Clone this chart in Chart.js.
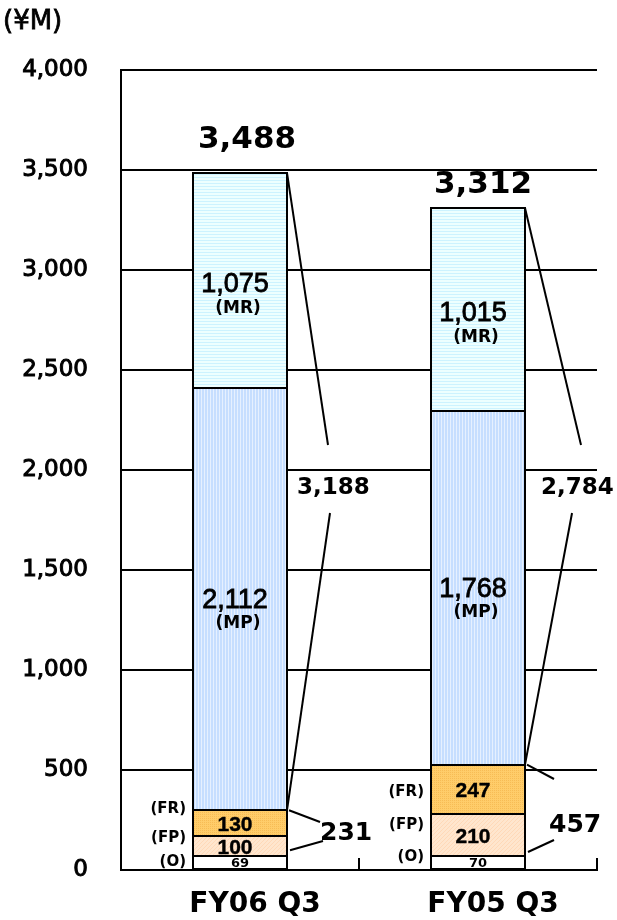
<!DOCTYPE html>
<html>
<head>
<meta charset="utf-8">
<script src="https://cdn.jsdelivr.net/npm/chart.js@4"></script>
<style>
  html, body { margin: 0; padding: 0; background: #fff; }
  #wrap { width: 617px; height: 920px; }
</style>
</head>
<body>
<div id="wrap"><canvas id="c" width="617" height="920"></canvas></div>
<script>
// Quarterly sales breakdown (¥M), stacked from the bottom up
const categories = ['FY06 Q3', 'FY05 Q3'];
const oValues  = [69, 70];      // (O)
const fpValues = [100, 210];    // (FP)
const frValues = [130, 247];    // (FR)
const mpValues = [2112, 1768];  // (MP)
const mrValues = [1075, 1015];  // (MR)
const totalLabels = [3488, 3312];
const mpMrLabels  = [3188, 2784];
const fpFrLabels  = [231, 457];
const yTicks = [0, 500, 1000, 1500, 2000, 2500, 3000, 3500, 4000];
const unitLabel = '(¥M)';

const fmt = v => Number(v).toLocaleString('en-US');

function makePattern(w, h, paint) {
  const c = document.createElement('canvas');
  c.width = w; c.height = h;
  const g = c.getContext('2d');
  paint(g, w, h);
  return g.createPattern(c, 'repeat');
}
const ctx0 = document.getElementById('c').getContext('2d');

const mrFill = makePattern(4, 3, (g, w, h) => {
  g.fillStyle = '#EDFFFF'; g.fillRect(0, 0, w, h);
  g.fillStyle = '#CDF3FF'; g.fillRect(0, 0, w, 1);
});
const mpFill = makePattern(3, 4, (g, w, h) => {
  g.fillStyle = '#C6DEFF'; g.fillRect(0, 0, w, h);
  g.fillStyle = '#E6F0FF'; g.fillRect(0, 0, 1, h);
});
const frFill = makePattern(2, 2, (g, w, h) => {
  g.fillStyle = '#FFCD6A'; g.fillRect(0, 0, w, h);
  g.fillStyle = '#F7BC55'; g.fillRect(0, 0, 1, 1);
});
const fpFill = makePattern(4, 4, (g, w, h) => {
  g.fillStyle = '#FFE6CE'; g.fillRect(0, 0, w, h);
  g.fillStyle = '#FFD9B8';
  for (let i = 0; i < 4; i++) g.fillRect(i, 3 - i, 1, 1);
});

const segmentStyle = {
  borderWidth: 0,
  barPercentage: 0.395,
  categoryPercentage: 1.0
};

// Outlines, texts and connector lines drawn over the bars
const annotate = {
  id: 'annotate',
  afterDatasetsDraw(chart, args, o) {
    const { ctx, chartArea } = chart;
    const ys = chart.scales.y;
    const xs = chart.scales.x;
    const metas = chart.data.datasets.map((d, i) => chart.getDatasetMeta(i));

    const text = (s, x, y, font, align, stroke) => {
      ctx.font = font;
      ctx.fillStyle = '#000';
      ctx.textAlign = align || 'center';
      ctx.textBaseline = 'middle';
      ctx.fillText(s, x, y);
      if (stroke) {
        ctx.save();
        ctx.lineWidth = stroke;
        ctx.strokeStyle = '#000';
        ctx.strokeText(s, x, y);
        ctx.restore();
      }
    };
    const line = (x1, y1, x2, y2) => {
      ctx.beginPath();
      ctx.moveTo(x1, y1);
      ctx.lineTo(x2, y2);
      ctx.stroke();
    };

    ctx.save();

    // unit caption
    text(unitLabel, 3, 22, '26px "DejaVu Sans"', 'left', 0.8);

    // small tick marks on the category axis, pointing up
    ctx.strokeStyle = '#000';
    ctx.lineWidth = 2;
    const step = xs.getPixelForValue(1) - xs.getPixelForValue(0);
    for (let i = 0; i <= categories.length; i++) {
      const tx = Math.round(xs.getPixelForValue(0) - step / 2 + i * step);
      line(tx, chartArea.bottom, tx, chartArea.bottom - 12);
    }

    categories.forEach((cat, i) => {
      const bars = metas.map(m => m.data[i]);
      const cx = bars[0].x;
      const right = cx + bars[0].width / 2;
      const left = cx - bars[0].width / 2;

      // segment outlines
      ctx.lineWidth = 2;
      bars.forEach(el => {
        const x0 = Math.round(left), x1 = Math.round(right);
        const y0 = Math.round(el.y), y1 = Math.round(el.base);
        ctx.strokeRect(x0, y0, x1 - x0, y1 - y0);
      });

      // values inside each segment
      o.segments.forEach((seg, k) => {
        const el = bars[k];
        const mid = (el.y + el.base) / 2;
        const v = chart.data.datasets[k].data[i];
        text(fmt(v), cx + seg.dx, mid + seg.dy, seg.font, 'center', seg.stroke);
        if (seg.tag) text(seg.tag, cx - 2, mid + seg.tagDy, 'bold 17px "DejaVu Sans"');
        if (seg.side) text(seg.side, left - 7, mid + seg.sideDy[i], 'bold 15px "DejaVu Sans"', 'right');
      });

      // total above the bar
      const top = bars[4].y;
      const t = o.total;
      text(fmt(totalLabels[i]), cx + t.dx[i], top + t.dy[i], 'bold 31px "DejaVu Sans"');

      // MP + MR bracket
      ctx.lineWidth = 2;
      const b = o.upper;
      const ly = ys.getPixelForValue(b.at);
      text(fmt(mpMrLabels[i]), right + b.textDx[i], ly, 'bold 23px "DejaVu Sans"', 'left');
      line(right, top, right + b.endDx[i], ly - 43);
      line(right + b.startDx[i], ly + 25, right, bars[3].base);

      // FP + FR bracket
      const c = o.lower;
      const ly2 = ys.getPixelForValue(c.at[i]);
      text(fmt(fpFrLabels[i]), right + c.textDx[i], ly2, 'bold 25px "DejaVu Sans"', 'left');
      line(right + 2, bars[2].y, right + c.endDx[i], ly2 + c.endDy[i]);
      line(right + c.startDx[i], ly2 + c.startDy[i], right + 3, bars[1].base - c.baseDy[i]);
    });

    ctx.restore();
  }
};

new Chart(ctx0, {
  type: 'bar',
  data: {
    labels: categories,
    datasets: [
      { label: 'O',  data: oValues,  backgroundColor: '#FFFFFF', ...segmentStyle },
      { label: 'FP', data: fpValues, backgroundColor: fpFill, ...segmentStyle },
      { label: 'FR', data: frValues, backgroundColor: frFill, ...segmentStyle },
      { label: 'MP', data: mpValues, backgroundColor: mpFill, ...segmentStyle },
      { label: 'MR', data: mrValues, backgroundColor: mrFill, ...segmentStyle }
    ]
  },
  options: {
    responsive: false,
    animation: false,
    layout: { padding: { top: 70, right: 20, left: 0, bottom: 0 } },
    plugins: {
      legend: { display: false },
      tooltip: { enabled: false },
      annotate: {
        segments: [
          { font: 'bold 13px "DejaVu Sans"', dx: 0, dy: 1, side: '(O)', sideDy: [0, -5] },
          { font: 'bold 21px "Liberation Sans"', dx: -5, dy: 2, stroke: 0.4, side: '(FP)', sideDy: [-8, -10] },
          { font: 'bold 21px "Liberation Sans"', dx: -5, dy: 2, stroke: 0.4, side: '(FR)', sideDy: [-14, 3] },
          { font: '27px "Liberation Sans"', dx: -5, dy: 2, stroke: 0.8, tag: '(MP)', tagDy: 25 },
          { font: '27px "Liberation Sans"', dx: -5, dy: 4, stroke: 0.8, tag: '(MR)', tagDy: 28 }
        ],
        total: { dx: [7, 5], dy: [-33, -23] },
        upper: { at: 1910, textDx: [10, 16], endDx: [41, 56], startDx: [43, 47] },
        lower: {
          at: [185, 225], textDx: [33, 24],
          endDx: [33, 29], endDy: [-11, -46],
          startDx: [36, 29], startDy: [8, 15],
          baseDy: [6, 4]
        }
      }
    },
    scales: {
      x: {
        stacked: true,
        grid: { display: false, drawTicks: false },
        border: { display: true, color: '#000', width: 2 },
        ticks: {
          color: '#000',
          font: { family: 'DejaVu Sans', weight: 'bold', size: 28 },
          padding: 18,
          labelOffset: 15
        },
        afterFit(s) { s.height = 50; }
      },
      y: {
        stacked: true,
        min: 0,
        max: 4000,
        afterBuildTicks(s) { s.ticks = yTicks.map(v => ({ value: v })); },
        ticks: {
          color: '#000',
          font: { family: 'DejaVu Sans', size: 23 },
          padding: 33,
          textStrokeColor: '#000',
          textStrokeWidth: 1,
          callback: v => fmt(v)
        },
        grid: { color: '#000', lineWidth: 2, drawTicks: false },
        border: { display: true, color: '#000', width: 2 },
        afterFit(s) { s.width = 121; }
      }
    }
  },
  plugins: [annotate]
});
</script>
</body>
</html>
